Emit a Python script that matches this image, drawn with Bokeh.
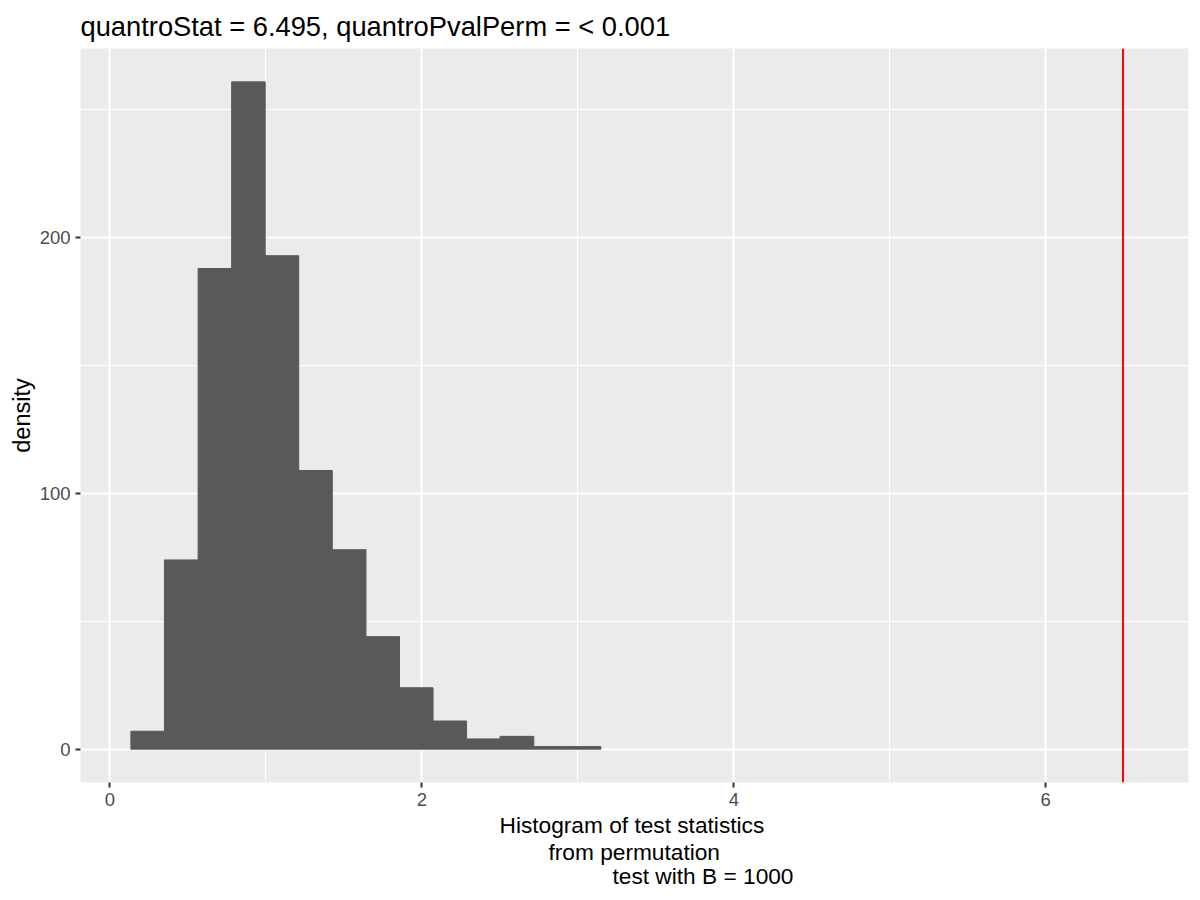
from bokeh.plotting import figure
from bokeh.models import Range1d, FixedTicker, Span, Title
from bokeh.embed import file_html
from bokeh.resources import INLINE

# Histogram of permutation test statistics (B = 1000)
bin_edges = [0.135, 0.350, 0.566, 0.781, 0.996, 1.211, 1.426, 1.642,
             1.857, 2.072, 2.287, 2.502, 2.718, 2.933, 3.148]
counts = [7, 74, 188, 261, 193, 109, 78, 44, 24, 11, 4, 5, 1, 1]
observed_stat = 6.495
x_ticks = [0, 2, 4, 6]
x_minor = [1, 3, 5]
y_ticks = [0, 100, 200]
y_minor = [50, 150, 250]
title_text = "quantroStat = 6.495, quantroPvalPerm = < 0.001"
xlabel_lines = ["Histogram of test statistics", "from permutation", "test with B = 1000"]
ylabel = "density"

FONT = "Liberation Sans"

p = figure(width=1200, height=900, output_backend="svg", toolbar_location=None,
           x_range=Range1d(-0.188, 6.915), y_range=Range1d(-13.05, 274.05),
           min_border_left=80, min_border_right=12, min_border_top=48,
           min_border_bottom=118)

p.background_fill_color = "#EBEBEB"
p.border_fill_color = "white"
p.outline_line_color = None

p.quad(left=bin_edges[:-1], right=bin_edges[1:], top=counts, bottom=0,
       fill_color="#595959", line_color="#595959", line_width=1)

p.add_layout(Span(location=observed_stat, dimension="height",
                  line_color="#FF0000", line_width=2))

p.xaxis.ticker = FixedTicker(ticks=x_ticks, minor_ticks=x_minor)
p.yaxis.ticker = FixedTicker(ticks=y_ticks, minor_ticks=y_minor)

for ax in (p.xaxis[0], p.yaxis[0]):
    ax.axis_line_color = None
    ax.major_tick_line_color = "#333333"
    ax.major_tick_line_width = 2
    ax.major_tick_out = 5
    ax.major_tick_in = 0
    ax.minor_tick_line_color = None
    ax.major_label_text_font = FONT
    ax.major_label_text_font_size = "18.5px"
    ax.major_label_text_color = "#4D4D4D"
    ax.major_label_standoff = 5

p.yaxis.axis_label = ylabel
p.yaxis.axis_label_text_font = FONT
p.yaxis.axis_label_text_font_size = "23.5px"
p.yaxis.axis_label_text_font_style = "normal"
p.yaxis.axis_label_text_color = "black"
p.yaxis.axis_label_standoff = 2

for g in (p.xgrid[0], p.ygrid[0]):
    g.grid_line_color = "white"
    g.grid_line_width = 2
    g.minor_grid_line_color = "white"
    g.minor_grid_line_width = 1

p.title.text = title_text
p.title.text_font = FONT
p.title.text_font_size = "27.3px"
p.title.text_font_style = "normal"
p.title.text_color = "black"
p.title.align = "left"
p.title.standoff = 12
p.title.vertical_align = "middle"

offsets = [419, 468, 532]
standoffs = [2, -4, -4]
for line, off, so in zip(xlabel_lines, offsets, standoffs):
    t = Title(text=line, align="left", offset=off, text_font=FONT,
              text_font_size="22.7px", text_font_style="normal",
              text_color="black", standoff=so)
    p.add_layout(t, "below")

open("out.html", "w").write(file_html(p, INLINE))
